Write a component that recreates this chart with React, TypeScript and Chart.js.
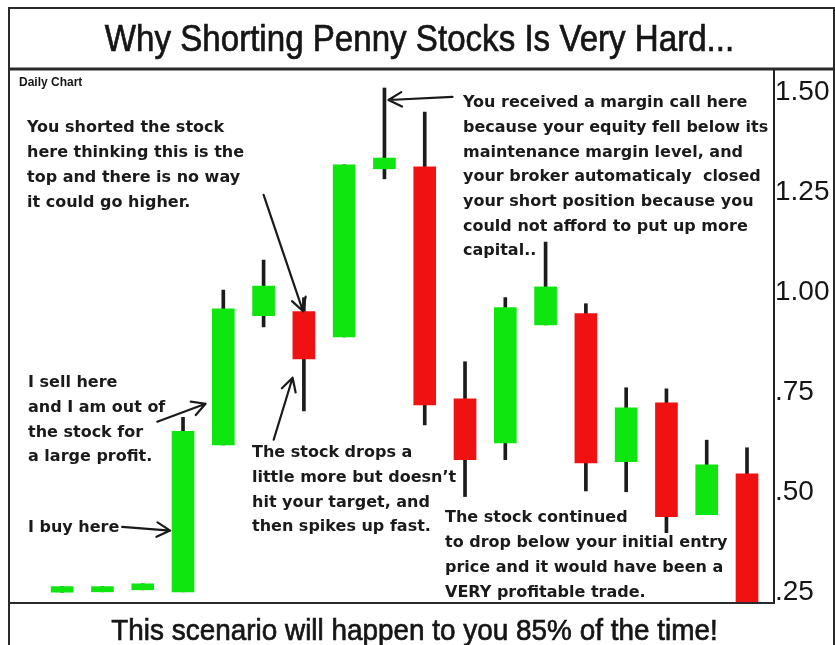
import React, { useEffect, useRef } from "react";
import { Chart, registerables } from "chart.js";

Chart.register(...registerables);

// ---------- DATA ----------
const days = [
  "D1", "D2", "D3", "D4", "D5", "D6", "D7", "D8", "D9",
  "D10", "D11", "D12", "D13", "D14", "D15", "D16", "D17", "D18",
];
const opens = [0.25, 0.251, 0.256, 0.251, 0.618, 0.941, 0.951, 0.888, 1.308, 1.313, 0.733, 0.623, 0.918, 0.946, 0.576, 0.723, 0.444, 0.546];
const closes = [0.264, 0.264, 0.271, 0.652, 0.958, 1.015, 0.833, 1.318, 1.335, 0.718, 0.581, 0.961, 1.013, 0.573, 0.711, 0.439, 0.568, 0.2];
const highs = [0.264, 0.264, 0.271, 0.687, 1.005, 1.08, 0.986, 1.318, 1.51, 1.45, 0.826, 0.986, 1.125, 0.971, 0.761, 0.758, 0.63, 0.611];
const lows = [0.25, 0.251, 0.256, 0.251, 0.618, 0.913, 0.703, 0.888, 1.283, 0.668, 0.489, 0.581, 0.918, 0.503, 0.501, 0.399, 0.444, 0.2];
const yTicks = [0.25, 0.5, 0.75, 1.0, 1.25, 1.5];

const TITLE = "Why Shorting Penny Stocks Is Very Hard...";
const FOOTER = "This scenario will happen to you 85% of the time!";
const CHART_LABEL = "Daily Chart";

const NOTE_SHORTED = ["You shorted the stock", "here thinking this is the", "top and there is no way", "it could go higher."];
const NOTE_MARGIN = [
  "You received a margin call here",
  "because your equity fell below its",
  "maintenance margin level, and",
  "your broker automaticaly  closed",
  "your short position because you",
  "could not afford to put up more",
  "capital..",
];
const NOTE_SELL = ["I sell here", "and I am out of", "the stock for", "a large profit."];
const NOTE_BUY = ["I buy here"];
const NOTE_DROPS = ["The stock drops a", "little more but doesn\u2019t", "hit your target, and", "then spikes up fast."];
const NOTE_CONTINUED = ["The stock continued", "to drop below your initial entry", "price and it would have been a", "VERY profitable trade."];

// ---------- STYLE / LAYOUT ----------
const GREEN = "#0fe60f";
const RED = "#f01212";
const INK = "#151515";
const NOTE_FONT = "bold 16px 'DejaVu Sans', Verdana, sans-serif";

// text blocks: left x, first-line centre y (pixels), line height
const notes = [
  { lines: NOTE_SHORTED, x: 27, y: 128, lh: 25 },
  { lines: NOTE_MARGIN, x: 463, y: 103, lh: 24.7 },
  { lines: NOTE_SELL, x: 28, y: 383, lh: 24.7 },
  { lines: NOTE_BUY, x: 28, y: 528, lh: 25 },
  { lines: NOTE_DROPS, x: 252, y: 453, lh: 24.7 },
  { lines: NOTE_CONTINUED, x: 445, y: 518, lh: 25 },
];

// arrows in data space: [x index, price]
const arrows = [
  { from: [5.0, 1.243], to: [5.98, 0.952] }, // shorted here
  { from: [1.49, 0.413], to: [2.68, 0.404] }, // buy
  { from: [2.36, 0.676], to: [3.56, 0.721] }, // sell
  { from: [5.25, 0.631], to: [5.72, 0.786] }, // drops a little more
  { from: [9.69, 1.488], to: [8.1, 1.48] }, // margin call
];

function fmtTick(v: number): string {
  const s = v.toFixed(2);
  return v < 1 ? s.slice(1) : s;
}

function drawArrow(ctx: CanvasRenderingContext2D, x1: number, y1: number, x2: number, y2: number) {
  const ang = Math.atan2(y2 - y1, x2 - x1);
  const len = 15;
  const spread = 0.5;
  ctx.beginPath();
  ctx.moveTo(x1, y1);
  ctx.lineTo(x2, y2);
  ctx.moveTo(x2 - len * Math.cos(ang - spread), y2 - len * Math.sin(ang - spread));
  ctx.lineTo(x2, y2);
  ctx.lineTo(x2 - len * Math.cos(ang + spread), y2 - len * Math.sin(ang + spread));
  ctx.stroke();
}

function heavyText(ctx: CanvasRenderingContext2D, text: string, x: number, y: number, w: number) {
  ctx.fillText(text, x, y);
  ctx.lineWidth = w;
  ctx.strokeText(text, x, y);
}

const decorPlugin = {
  id: "decor",
  afterDraw(chart: any) {
    const { ctx, chartArea, width } = chart;
    const xs = chart.scales.x;
    const ys = chart.scales.y;
    ctx.save();

    // frame
    ctx.strokeStyle = "#2a2a2a";
    ctx.lineWidth = 2;
    ctx.beginPath();
    ctx.moveTo(chartArea.left, chart.height);
    ctx.lineTo(chartArea.left, 8);
    ctx.lineTo(width - 1, 8);
    ctx.lineTo(width - 1, chart.height);
    ctx.moveTo(chartArea.left, chartArea.bottom);
    ctx.lineTo(chartArea.right, chartArea.bottom);
    ctx.stroke();
    ctx.lineWidth = 3;
    ctx.beginPath();
    ctx.moveTo(chartArea.left, chartArea.top - 1);
    ctx.lineTo(width - 1, chartArea.top - 1);
    ctx.stroke();

    // title
    ctx.fillStyle = INK;
    ctx.strokeStyle = INK;
    ctx.textBaseline = "alphabetic";
    ctx.textAlign = "center";
    ctx.save();
    ctx.translate(width / 2 + 2, 51);
    ctx.scale(0.895, 1);
    ctx.font = "37px 'Liberation Sans', Arial, sans-serif";
    heavyText(ctx, TITLE, 0, 0, 0.7);
    ctx.restore();

    // footer
    ctx.save();
    ctx.translate(width / 2 - 3, 640);
    ctx.scale(0.93, 1);
    ctx.font = "30px 'Liberation Sans', Arial, sans-serif";
    heavyText(ctx, FOOTER, 0, 0, 0.7);
    ctx.restore();

    // daily chart label
    ctx.textAlign = "left";
    ctx.textBaseline = "middle";
    ctx.font = "bold 12px 'Liberation Sans', Arial, sans-serif";
    ctx.fillText(CHART_LABEL, chartArea.left + 10, chartArea.top + 13);

    // notes
    ctx.font = NOTE_FONT;
    ctx.fillStyle = "#1a1a1a";
    notes.forEach((n) => {
      n.lines.forEach((line, i) => ctx.fillText(line, n.x, n.y + i * n.lh));
    });

    // arrows
    ctx.strokeStyle = "#1a1a1a";
    ctx.lineWidth = 2.2;
    ctx.lineCap = "round";
    ctx.lineJoin = "round";
    arrows.forEach((a) => {
      drawArrow(
        ctx,
        xs.getPixelForValue(a.from[0]),
        ys.getPixelForValue(a.from[1]),
        xs.getPixelForValue(a.to[0]),
        ys.getPixelForValue(a.to[1])
      );
    });
    ctx.restore();
  },
};

export default function App() {
  const ref = useRef<HTMLCanvasElement | null>(null);

  useEffect(() => {
    document.body.style.margin = "0";
    const canvas = ref.current;
    if (!canvas) return;
    const idx = days.map((_, i) => i);
    const chart = new Chart(canvas, {
      type: "bar",
      data: {
        labels: days,
        datasets: [
          {
            label: "Body",
            data: idx.map((i) => ({ x: i, y: [opens[i], closes[i]] })) as any,
            backgroundColor: idx.map((i) => (closes[i] >= opens[i] ? GREEN : RED)),
            barThickness: 22,
            grouped: false,
            order: 1,
          } as any,
          {
            label: "Wick",
            data: idx.map((i) => ({ x: i, y: [lows[i], highs[i]] })) as any,
            backgroundColor: "#1c1c1c",
            barThickness: 3,
            grouped: false,
            order: 2,
          } as any,
        ],
      },
      options: {
        responsive: false,
        animation: false,
        layout: { padding: { left: 9, top: 70, right: 0, bottom: 42 } },
        plugins: {
          legend: { display: false },
          tooltip: { enabled: false },
          title: { display: false },
        },
        scales: {
          x: { type: "linear", display: false, offset: false, min: -1.32, max: 17.67 },
          y: {
            position: "right",
            min: 0.223,
            max: 1.555,
            afterBuildTicks: (s: any) => {
              s.ticks = yTicks.map((v) => ({ value: v }));
            },
            afterFit: (s: any) => {
              s.width = 61;
            },
            grid: { display: false, drawTicks: false },
            border: { display: true, color: "#222", width: 2 },
            ticks: {
              padding: 1,
              color: INK,
              font: { family: "'Liberation Sans', Arial, sans-serif", size: 28 },
              callback: (v: any) => fmtTick(Number(v)),
            },
          },
        },
      } as any,
      plugins: [decorPlugin],
    });
    return () => chart.destroy();
  }, []);

  return <canvas ref={ref} width={835} height={645} style={{ display: "block" }} />;
}
